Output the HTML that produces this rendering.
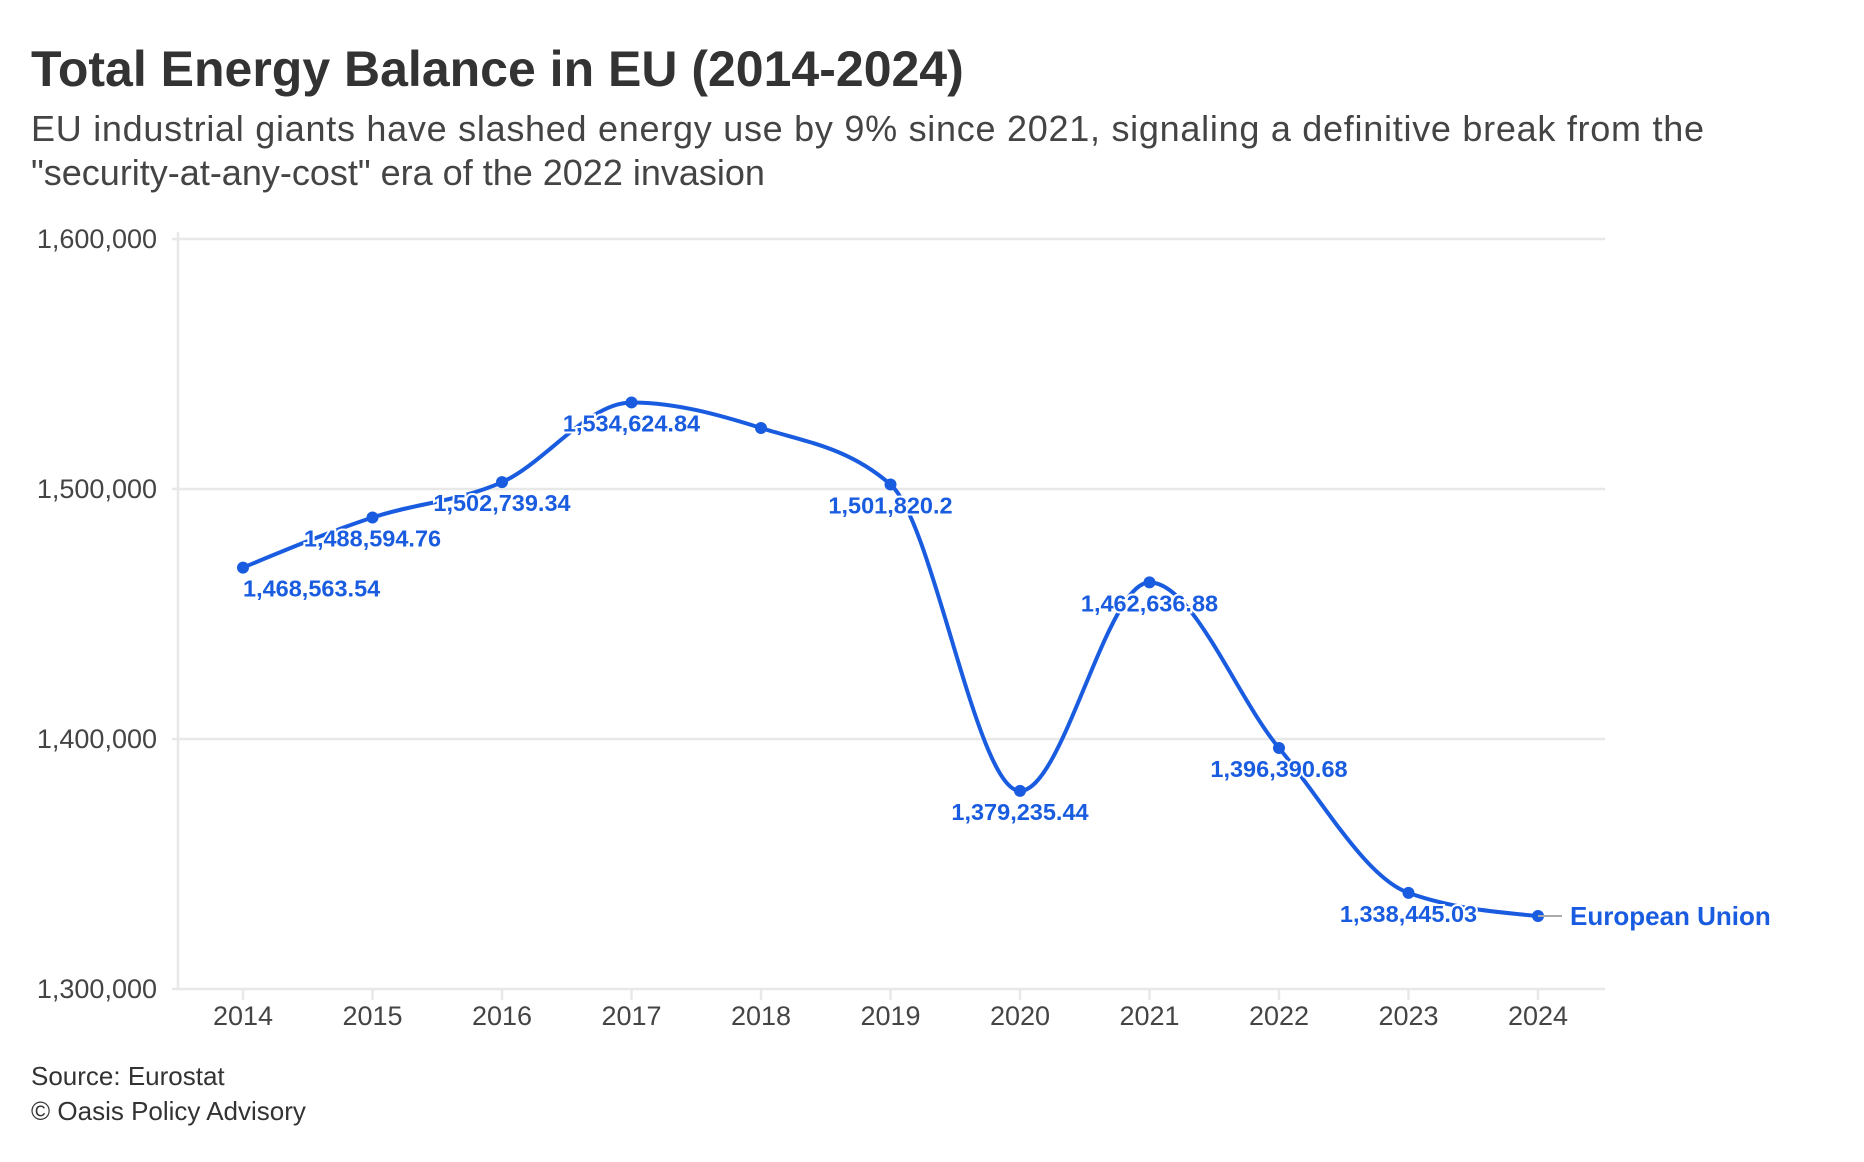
<!DOCTYPE html>
<html><head><meta charset="utf-8"><style>
body{margin:0;background:#fff;}
svg{display:block;font-family:"Liberation Sans",sans-serif;}
</style></head><body>
<svg width="1864" height="1162" viewBox="0 0 1864 1162">
<text x="31" y="86" font-size="50" font-weight="bold" fill="#333">Total Energy Balance in EU (2014-2024)</text>
<text x="31" y="141" font-size="36" fill="#444" textLength="1673">EU industrial giants have slashed energy use by 9% since 2021, signaling a definitive break from the</text>
<text x="31" y="185" font-size="36" fill="#444">"security-at-any-cost" era of the 2022 invasion</text>
<g id="grid"></g>
<g id="xaxis"></g>
<path id="line" fill="none" stroke="#1a5ce0" stroke-width="4"></path>
<g id="pts"></g>
<g id="labels"></g>
<text x="31" y="1085" font-size="26" fill="#333">Source: Eurostat</text>
<text x="31" y="1120" font-size="26" fill="#333">© Oasis Policy Advisory</text>
</svg>
<script>
const years=[2014,2015,2016,2017,2018,2019,2020,2021,2022,2023,2024];
const values=[1468563.54,1488594.76,1502739.34,1534624.84,1524400,1501820.2,1379235.44,1462636.88,1396390.68,1338445.03,1329200];
const printed=["1,468,563.54","1,488,594.76","1,502,739.34","1,534,624.84","","1,501,820.2","1,379,235.44","1,462,636.88","1,396,390.68","1,338,445.03",""];
const yTicks=[1300000,1400000,1500000,1600000];
const yTickLabels=["1,300,000","1,400,000","1,500,000","1,600,000"];
const NS="http://www.w3.org/2000/svg";
const X=i=>243+i*129.5;
const Y=v=>989-(v-1300000)/100000*250;
function mk(tag,attrs,parent,text){const e=document.createElementNS(NS,tag);for(const k in attrs)e.setAttribute(k,attrs[k]);if(text!==undefined)e.textContent=text;parent.appendChild(e);return e;}
const grid=document.getElementById('grid');
yTicks.forEach((t,i)=>{
  const y=Y(t);
  if(i>0){const l=mk('line',{x1:172,x2:1605,y1:y,y2:y,stroke:'#e8e8e8','stroke-width':2.5},grid);
  
  }
  const tx=mk('text',{x:157,y:y+9,'font-size':27,fill:'#444','text-anchor':'end'},grid,yTickLabels[i]);
  
  
});
const ax=document.getElementById('xaxis');
const yl=mk('line',{x1:178,x2:178,y1:232,y2:989,stroke:'#e8e8e8','stroke-width':2.5},ax);


const xl=mk('line',{x1:172,x2:1605,y1:989,y2:989,stroke:'#e8e8e8','stroke-width':2.5},ax);


years.forEach((yr,i)=>{
  const tk=mk('line',{x1:X(i),x2:X(i),y1:989,y2:1000,stroke:'#e8e8e8','stroke-width':2.5},ax);
  
  
  const t=mk('text',{x:X(i),y:1025,'font-size':27,fill:'#444','text-anchor':'middle'},ax,String(yr));
  
  
});
const px=years.map((_,i)=>X(i)),py=values.map(Y);const n=px.length;
const d=[],m=[];for(let i=0;i<n-1;i++)d.push((py[i+1]-py[i])/(px[i+1]-px[i]));
for(let i=0;i<n;i++){if(i==0)m.push(d[0]);else if(i==n-1)m.push(d[n-2]);else{ if(d[i-1]*d[i]<=0)m.push(0);else{const h0=px[i]-px[i-1],h1=px[i+1]-px[i];const p=(d[i-1]*h1+d[i]*h0)/(h0+h1);m.push(Math.sign(d[i-1])*Math.min(Math.abs(p),2*Math.abs(d[i-1]),2*Math.abs(d[i])));}}}
m[0]=(3*d[0]-m[1])/2;m[n-1]=(3*d[n-2]-m[n-2])/2;
let path=`M${px[0]},${py[0]}`;
for(let i=0;i<n-1;i++){const h=(px[i+1]-px[i])/3;path+=`C${px[i]+h},${py[i]+m[i]*h} ${px[i+1]-h},${py[i+1]-m[i+1]*h} ${px[i+1]},${py[i+1]}`;}
document.getElementById('line').setAttribute('d',path);
const pts=document.getElementById('pts'),lab=document.getElementById('labels');
values.forEach((v,i)=>{
  const c=mk('circle',{cx:X(i),cy:Y(v),r:6,fill:'#1a5ce0'},pts);
  
  
  if(printed[i]){
    const t=mk('text',{x:X(i),y:Y(v)+29,'font-size':23.5,'font-weight':'bold',fill:'#1a5ce0','text-anchor':i==0?'start':'middle',stroke:'#fff','stroke-width':4,'paint-order':'stroke'},lab,printed[i]);
    
    
  }
});
const last=n-1;
const ll=mk('line',{x1:X(last),x2:X(last)+24,y1:Y(values[last]),y2:Y(values[last]),stroke:'#aaa','stroke-width':2},lab);


const lg=mk('text',{x:X(last)+32,y:Y(values[last])+9,'font-size':26,'font-weight':'bold',fill:'#1a5ce0'},lab,'European Union');


</script>
</body></html>
